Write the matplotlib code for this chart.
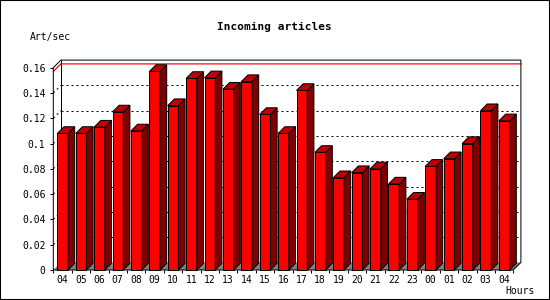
import numpy as np
import matplotlib
matplotlib.use("Agg")
import matplotlib.pyplot as plt
from matplotlib.patches import Polygon, Rectangle

hours = ['04', '05', '06', '07', '08', '09', '10', '11', '12', '13', '14', '15', '16',
         '17', '18', '19', '20', '21', '22', '23', '00', '01', '02', '03', '04']
values = [0.108, 0.108, 0.113, 0.125, 0.110, 0.157, 0.130, 0.1515, 0.152, 0.143,
          0.149, 0.123, 0.108, 0.142, 0.093, 0.073, 0.077, 0.080, 0.068, 0.056,
          0.082, 0.088, 0.100, 0.126, 0.118]
yticks = [0, 0.02, 0.04, 0.06, 0.08, 0.1, 0.12, 0.14, 0.16]
ytick_labels = ['0', '0.02', '0.04', '0.06', '0.08', '0.1', '0.12', '0.14', '0.16']
title = 'Incoming articles'
ylabel = 'Art/sec'
xlabel = 'Hours'

W, H = 550, 300
fig = plt.figure(figsize=(W / 100, H / 100), dpi=100)
fig.patch.set_facecolor('white')
left_px, right_px, top_px, bot_px = 53.3, 513.3, 67.7, 270.0
ax = fig.add_axes([left_px / W, 1 - bot_px / H, (right_px - left_px) / W, (bot_px - top_px) / H])
n = len(values)
ymax = 0.16
ax.set_xlim(0, n)
ax.set_ylim(0, ymax)
ax.set_facecolor('none')

px_x = (right_px - left_px) / n        # pixels per slot
px_y = (bot_px - top_px) / ymax        # pixels per unit
# depth of walls and bars (in data units)
dxw, dyw = 7.6 / px_x, 7.6 / px_y
dxb, dyb = 6.7 / px_x, 6.7 / px_y
off, bw = 4.0 / px_x, 10.7 / px_x

mono = 'DejaVu Sans Mono'
lw = 0.72
kw = dict(clip_on=False)

# floor
ax.add_patch(Polygon([(0, 0), (n, 0), (n + dxw, dyw), (dxw, dyw)], closed=True,
                     facecolor='#808080', edgecolor='none', zorder=0.5, **kw))

# back wall gridlines
for v in yticks[1:-1]:
    ax.plot([dxw, n + dxw], [v + dyw, v + dyw], color='black', lw=lw,
            linestyle=(0, (2, 3)), zorder=0.6, **kw)
    ax.plot([0, dxw], [v, v + dyw], color='black', lw=lw,
            linestyle=(0, (2, 3)), zorder=0.6, **kw)

# max line
vm = max(values)
ax.plot([0, dxw, n + dxw], [vm, vm + dyw, vm + dyw], color='red', lw=lw * 1.2, zorder=0.7, **kw)

# frame
ax.plot([0, 0, dxw, n + dxw, n + dxw, n, 0], [0, ymax, ymax + dyw, ymax + dyw, dyw, 0, 0],
        color='black', lw=lw, zorder=0.8, **kw)
ax.plot([dxw, dxw], [dyw, ymax + dyw], color='black', lw=lw, zorder=0.8, **kw)

# bars
for i, v in enumerate(values):
    x0 = i + off
    x1 = x0 + bw
    ax.add_patch(Rectangle((x0, 0), bw, v, facecolor='#ff0000', edgecolor='black',
                           lw=lw, zorder=2, **kw))
    ax.add_patch(Polygon([(x1, 0), (x1 + dxb, dyb), (x1 + dxb, v + dyb), (x1, v)], closed=True,
                         facecolor='#800000', edgecolor='black', lw=lw, zorder=2, **kw))
    ax.add_patch(Polygon([(x0, v), (x1, v), (x1 + dxb, v + dyb), (x0 + dxb, v + dyb)], closed=True,
                         facecolor='#c00000', edgecolor='black', lw=lw, zorder=2, **kw))

for s in ax.spines.values():
    s.set_visible(False)

ax.set_xticks(np.arange(n + 1))
ax.set_xticklabels([''] * (n + 1))
ax.set_xticks(np.arange(n) + 0.5, minor=True)
ax.set_xticklabels(hours, minor=True, fontfamily=mono, fontsize=7)
ax.tick_params(axis='x', which='major', length=2.2, width=lw, direction='out')
ax.tick_params(axis='x', which='minor', length=0, pad=3.5)

ax.set_yticks(yticks)
ax.set_yticklabels(ytick_labels, fontfamily=mono, fontsize=7)
ax.tick_params(axis='y', length=2.2, width=lw, direction='out', pad=3.5)

fig.text(274 / W, 1 - 27 / H, title, ha='center', va='center', fontfamily=mono,
         fontsize=8, fontweight='bold')
fig.text(30 / W, 1 - 37 / H, ylabel, ha='left', va='center', fontfamily=mono, fontsize=7)
fig.text(505 / W, 1 - 291.5 / H, xlabel, ha='left', va='center', fontfamily=mono, fontsize=7)

fig.patches.append(Rectangle((0, 0), 1, 1, transform=fig.transFigure, fill=False,
                             edgecolor='black', lw=1.5))

fig.savefig('out.png', dpi=100)
